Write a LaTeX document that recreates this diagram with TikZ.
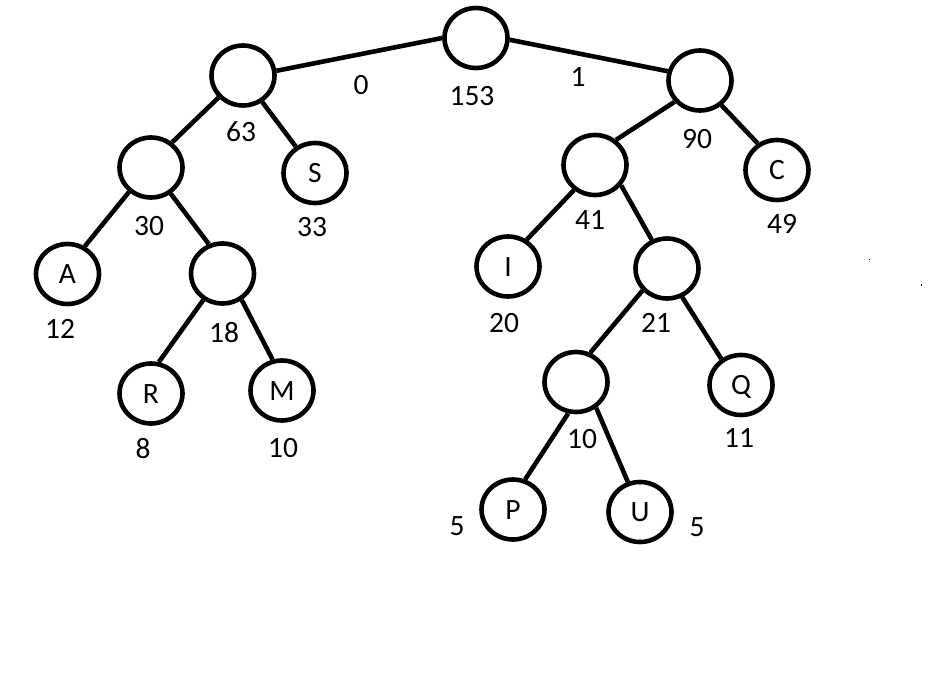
\documentclass[tikz,border=0pt]{standalone}
\usepackage{fontspec}
\setmainfont{Carlito}
\usetikzlibrary{shapes.geometric}
\begin{document}
\begin{tikzpicture}[x=1pt,y=-1pt,
  tn/.style={ellipse,draw=black,line width=4.6pt,minimum width=63pt,minimum height=60pt,inner sep=0pt,
    font=\fontsize{29.5}{30}\selectfont,text height=19pt,text depth=0pt},
  edge/.style={line width=4.6pt,draw=black},
  lbl/.style={inner sep=0pt,font=\fontsize{29.5}{30}\selectfont,text height=18.7pt,text depth=0pt}]
\useasboundingbox[fill=white] (0,0) rectangle (948,677);
% tree nodes
\node[tn] (root) at (476,38) {};
\node[tn] (n63) at (243,75.5) {};
\node[tn] (n90) at (700,80.5) {};
\node[tn] (n30) at (151,167.5) {};
\node[tn] (S) at (315,173) {S};
\node[tn] (A) at (67.5,274) {A};
\node[tn] (n18) at (222.5,273.5) {};
\node[tn] (R) at (151,393.5) {R};
\node[tn] (M) at (282,390.5) {M};
\node[tn] (n41) at (595,165) {};
\node[tn] (C) at (777,170) {C};
\node[tn] (I) at (508,266.5) {I};
\node[tn] (n21) at (667,268.5) {};
\node[tn] (n10) at (576,382) {};
\node[tn] (Q) at (741,385) {Q};
\node[tn] (P) at (513,509.5) {P};
\node[tn] (U) at (640,512) {U};
% edges
\draw[edge] (root.180) -- (n63.8);
\draw[edge] (root.-3) -- (n90.164);
\draw[edge] (n63.222) -- (n30.50);
\draw[edge] (n63.-54) -- (S.126);
\draw[edge] (n30.-132) -- (A.58);
\draw[edge] (n30.-53) -- (n18.115);
\draw[edge] (n18.-126) -- (R.76);
\draw[edge] (n18.-54) -- (M.107);
\draw[edge] (n90.-140) -- (n41.50);
\draw[edge] (n90.-49) -- (C.126);
\draw[edge] (n41.-130) -- (I.55);
\draw[edge] (n41.-38) -- (n21.118);
\draw[edge] (n21.-138) -- (n10.64);
\draw[edge] (n21.-62) -- (Q.127);
\draw[edge] (n10.-104) -- (P.68);
\draw[edge] (n10.-52) -- (U.112);
% labels
\node[lbl] (l0) at (361,85) {0};
\node[lbl] (l153) at (472,96) {153};
\node[lbl] (l1) at (578,77) {1};
\node[lbl] (l63) at (241,132) {63};
\node[lbl] (l90) at (697,139) {90};
\node[lbl] (l33) at (312,227) {33};
\node[lbl] (l49) at (782,224) {49};
\node[lbl] (l30) at (149,226) {30};
\node[lbl] (l41) at (590,220) {41};
\node[lbl] (l12) at (60,329) {12};
\node[lbl] (l18) at (224,333) {18};
\node[lbl] (l20) at (504,323) {20};
\node[lbl] (l21) at (656,323) {21};
\node[lbl] (l8) at (143,449) {8};
\node[lbl] (l10a) at (283,448) {10};
\node[lbl] (l11) at (739,438) {11};
\node[lbl] (l10b) at (582,439) {10};
\node[lbl] (l5a) at (457,526) {5};
\node[lbl] (l5b) at (697,527) {5};
% stray specks
\fill[black] (868.5,258.5) rectangle (870,260);
\fill[black] (920.5,283.5) rectangle (922,286);
\end{tikzpicture}
\end{document}
